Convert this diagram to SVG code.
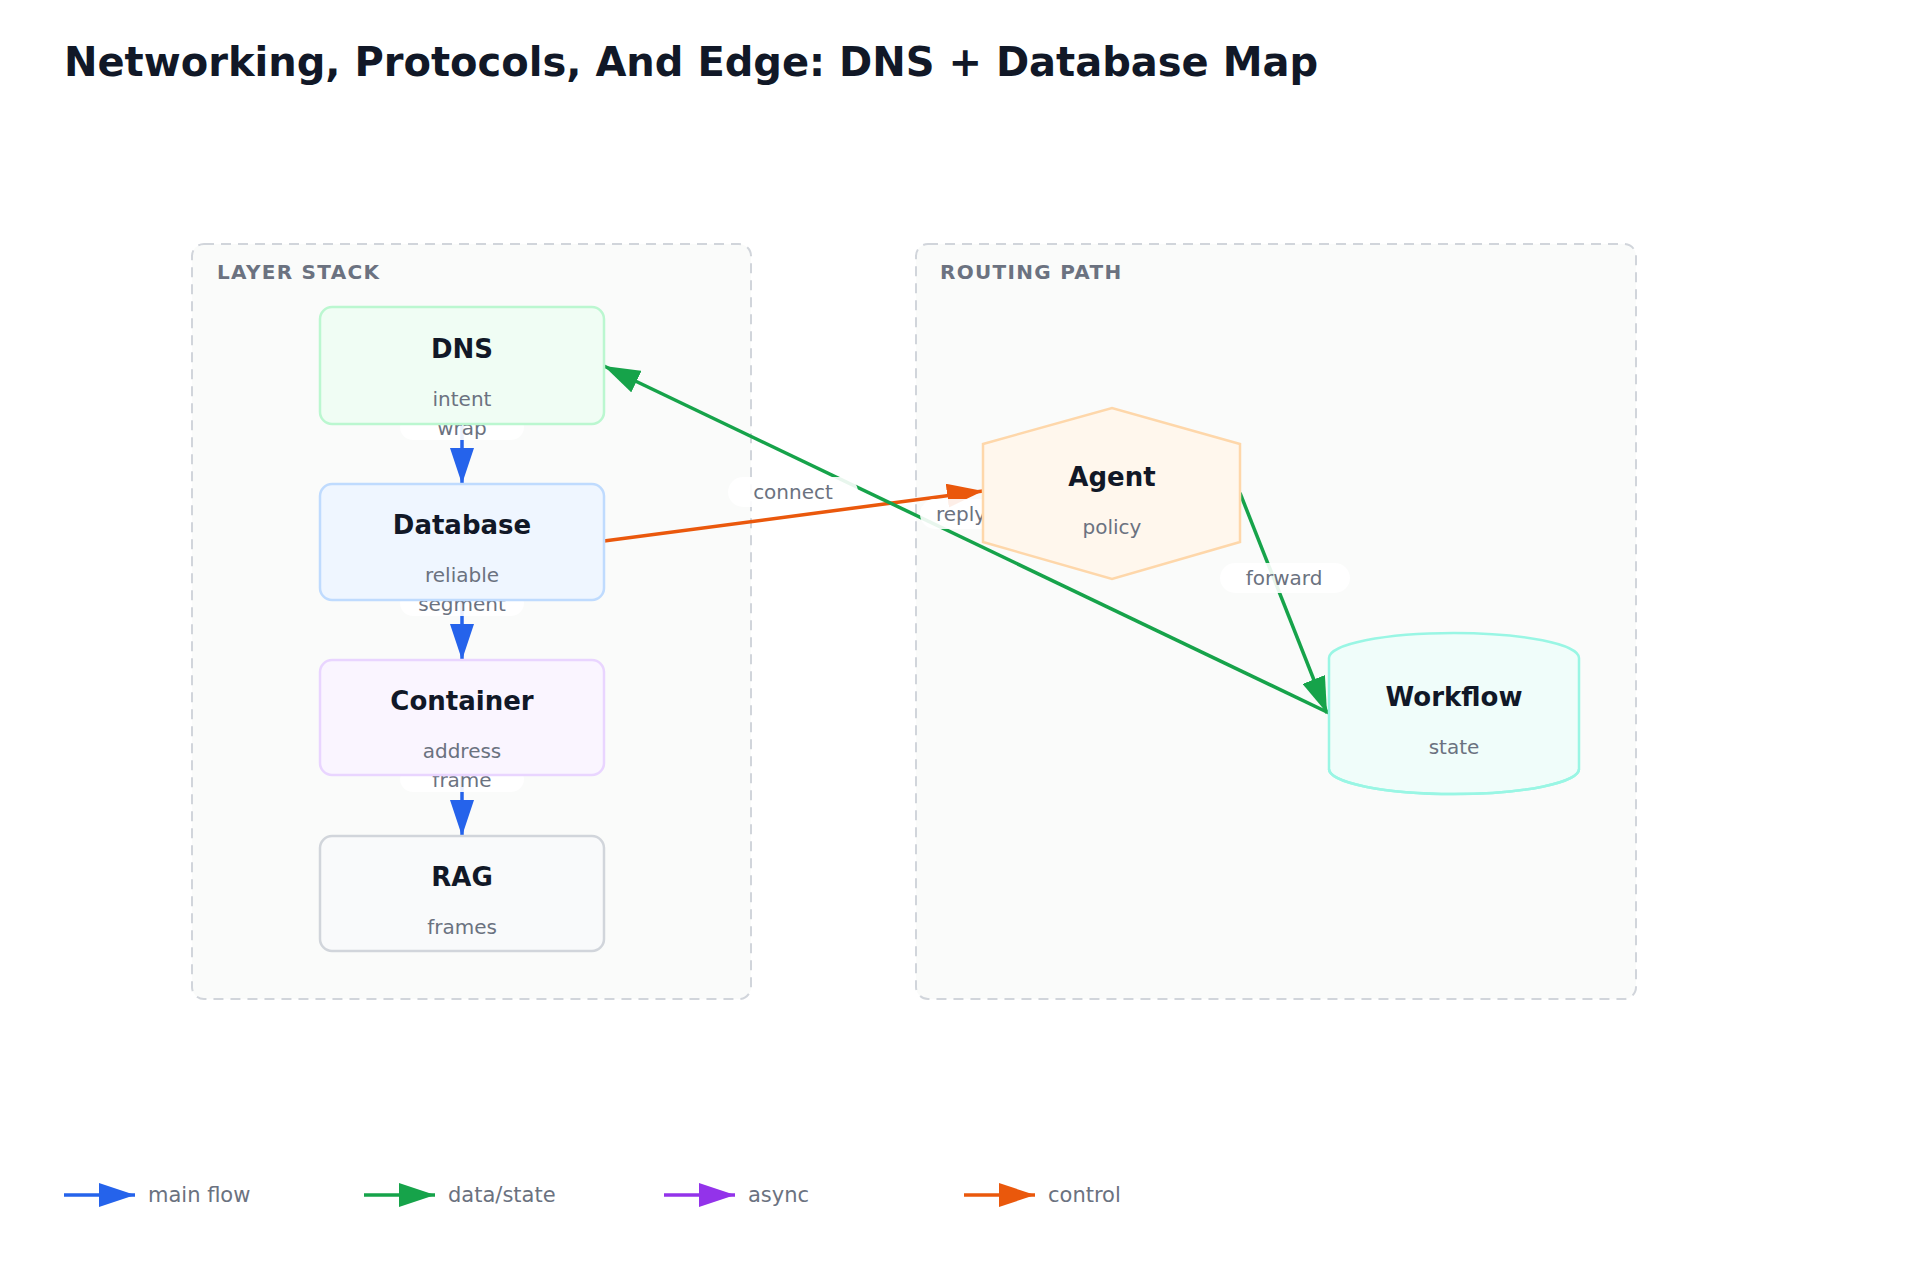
<svg xmlns="http://www.w3.org/2000/svg" width="1920" height="1280" viewBox="0 0 1920 1280">
<style>
text{font-family:"DejaVu Sans","Liberation Sans",sans-serif}
.title{font-size:40px;font-weight:bold;fill:#111827}
.grp{fill:#fafbfa;stroke:#d1d5db;stroke-width:2;stroke-dasharray:10 7}
.glabel{font-size:20px;font-weight:bold;fill:#6b7280;letter-spacing:1.3px}
.nt{font-size:26px;font-weight:bold;fill:#111827;text-anchor:middle}
.ns{font-size:20px;fill:#6b7280;text-anchor:middle}
.el{font-size:20px;fill:#6b7280;text-anchor:middle}
.lbg{fill:#fff;opacity:0.9}
.e{fill:none;stroke-width:3.5}
.leg{font-size:21px;fill:#6b7280}
</style>
<defs>
<marker id="mb" markerUnits="userSpaceOnUse" markerWidth="36" markerHeight="24" refX="36" refY="12" orient="auto"><path d="M0,0L36,12L0,24z" fill="#2563eb"/></marker>
<marker id="mg" markerUnits="userSpaceOnUse" markerWidth="36" markerHeight="24" refX="36" refY="12" orient="auto"><path d="M0,0L36,12L0,24z" fill="#16a34a"/></marker>
<marker id="mp" markerUnits="userSpaceOnUse" markerWidth="36" markerHeight="24" refX="36" refY="12" orient="auto"><path d="M0,0L36,12L0,24z" fill="#9333ea"/></marker>
<marker id="mo" markerUnits="userSpaceOnUse" markerWidth="36" markerHeight="24" refX="36" refY="12" orient="auto"><path d="M0,0L36,12L0,24z" fill="#ea580c"/></marker>
</defs>
<rect width="1920" height="1280" fill="#fff"/>
<text class="title" x="64" y="76">Networking, Protocols, And Edge: DNS + Database Map</text>

<g id="group-layer-stack"><rect class="grp" x="192" y="244" width="559" height="755" rx="12"/><text class="glabel" x="217" y="279">LAYER STACK</text></g>
<g id="group-routing-path"><rect class="grp" x="916" y="244" width="720" height="755" rx="12"/><text class="glabel" x="940" y="279">ROUTING PATH</text></g>

<g id="connectors">
<line class="e" x1="462" y1="424" x2="462" y2="484" stroke="#2563eb" marker-end="url(#mb)"/>
<line class="e" x1="462" y1="600" x2="462" y2="660" stroke="#2563eb" marker-end="url(#mb)"/>
<line class="e" x1="462" y1="775" x2="462" y2="836" stroke="#2563eb" marker-end="url(#mb)"/>
<line class="e" x1="604" y1="541" x2="983" y2="491" stroke="#ea580c" marker-end="url(#mo)"/>
<line class="e" x1="1329" y1="713" x2="604" y2="366" stroke="#16a34a" marker-end="url(#mg)"/>
<line class="e" x1="1240" y1="493" x2="1327" y2="713" stroke="#16a34a" marker-end="url(#mg)"/>
<rect class="lbg" x="400" y="414" width="124" height="26" rx="13"/><text class="el" x="462" y="435">wrap</text>
<rect class="lbg" x="400" y="590" width="124" height="26" rx="13"/><text class="el" x="462" y="611">segment</text>
<rect class="lbg" x="400" y="766" width="124" height="26" rx="13"/><text class="el" x="462" y="787">frame</text>
<rect class="lbg" x="728" y="477" width="130" height="30" rx="15"/><text class="el" x="793" y="499">connect</text>
<rect class="lbg" x="920" y="499" width="80" height="30" rx="15"/><text class="el" x="961" y="521">reply</text>
<rect class="lbg" x="1220" y="563" width="130" height="30" rx="15"/><text class="el" x="1284" y="585">forward</text>
</g>

<g id="node-dns"><rect x="320" y="307" width="284" height="117" rx="12" fill="#f0fdf4" stroke="#bbf7d0" stroke-width="2.5"/><text class="nt" x="462" y="358">DNS</text><text class="ns" x="462" y="406">intent</text></g>
<g id="node-database"><rect x="320" y="484" width="284" height="116" rx="12" fill="#eff6ff" stroke="#bfdbfe" stroke-width="2.5"/><text class="nt" x="462" y="534">Database</text><text class="ns" x="462" y="582">reliable</text></g>
<g id="node-container"><rect x="320" y="660" width="284" height="115" rx="12" fill="#faf5ff" stroke="#e9d5ff" stroke-width="2.5"/><text class="nt" x="462" y="710">Container</text><text class="ns" x="462" y="758">address</text></g>
<g id="node-rag"><rect x="320" y="836" width="284" height="115" rx="12" fill="#f9fafb" stroke="#d1d5db" stroke-width="2.5"/><text class="nt" x="462" y="886">RAG</text><text class="ns" x="462" y="934">frames</text></g>
<g id="node-agent"><polygon points="983,444 1112,408 1240,444 1240,542 1112,579 983,542" fill="#fff7ed" stroke="#fed7aa" stroke-width="2.5"/><text class="nt" x="1112" y="486">Agent</text><text class="ns" x="1112" y="534">policy</text></g>
<g id="node-workflow"><path d="M1329,658 A125,25 0 0 1 1579,658 V769 A125,25 0 0 1 1329,769 Z" fill="#f0fdfa" stroke="#99f6e4" stroke-width="2.5"/><path d="M1329,769 A125,25 0 0 0 1579,769" fill="none" stroke="#99f6e4" stroke-width="2.5"/><text class="nt" x="1454" y="706">Workflow</text><text class="ns" x="1454" y="754">state</text></g>

<g id="legend">
<line class="e" x1="64" y1="1195" x2="135" y2="1195" stroke="#2563eb" marker-end="url(#mb)"/><text class="leg" x="148" y="1202">main flow</text>
<line class="e" x1="364" y1="1195" x2="435" y2="1195" stroke="#16a34a" marker-end="url(#mg)"/><text class="leg" x="448" y="1202">data/state</text>
<line class="e" x1="664" y1="1195" x2="735" y2="1195" stroke="#9333ea" marker-end="url(#mp)"/><text class="leg" x="748" y="1202">async</text>
<line class="e" x1="964" y1="1195" x2="1035" y2="1195" stroke="#ea580c" marker-end="url(#mo)"/><text class="leg" x="1048" y="1202">control</text>
</g>
</svg>
